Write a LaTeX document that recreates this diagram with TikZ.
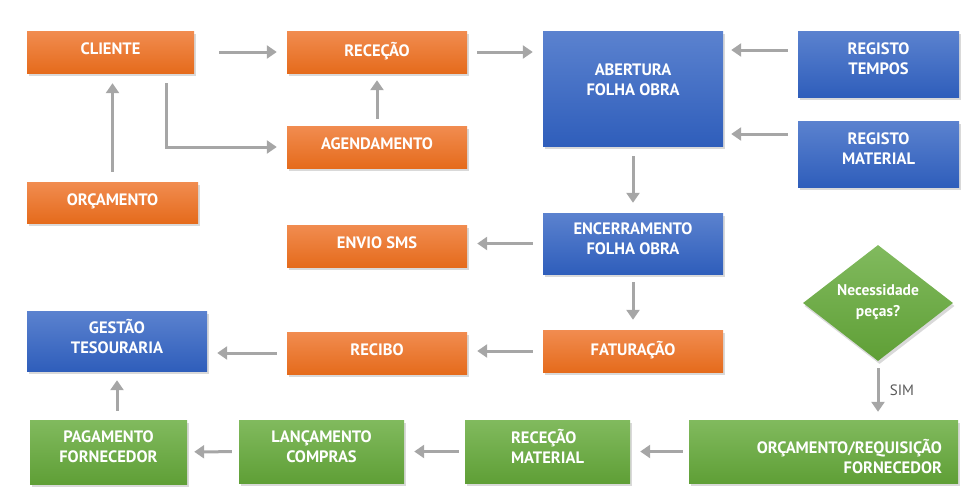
\documentclass[tikz,border=0pt]{standalone}
\usepackage{fontspec}
\setmainfont{PT Sans}
\usetikzlibrary{arrows.meta,shapes.geometric,shadows}
\definecolor{orangetop}{HTML}{F18C50}
\definecolor{orangebot}{HTML}{E56B1C}
\definecolor{bluetop}{HTML}{5B82CF}
\definecolor{bluebot}{HTML}{2F5EBB}
\definecolor{greentop}{HTML}{81BA5E}
\definecolor{greenbot}{HTML}{5F9F36}
\definecolor{arrowgray}{HTML}{A6A6A6}
\definecolor{labelgray}{HTML}{595959}
\tikzset{
	box/.style={rectangle, text=white, font=\fontsize{16.5}{20}\selectfont\bfseries, align=center, inner sep=0pt, text depth=10pt,
		drop shadow={opacity=0.3, shadow xshift=1.5pt, shadow yshift=-3pt}},
	orangebox/.style={box, top color=orangetop, bottom color=orangebot, text depth=6pt},
	bluebox/.style={box, top color=bluetop, bottom color=bluebot},
	greenbox/.style={box, top color=greentop, bottom color=greenbot},
	flow/.style={draw=arrowgray, line width=3pt, -{Triangle[width=13pt,length=10pt]}, shorten <=10pt, shorten >=10pt},
}

\begin{document}
\begin{tikzpicture}[x=1pt, y=-1pt]
		\useasboundingbox (0,0) rectangle (972,501);
		% orange
		\node (cliente)[orangebox, minimum width=167pt, minimum height=42pt] at (110.5,52) {CLIENTE};
		\node (rececao)[orangebox, minimum width=180pt, minimum height=42pt] at (377,52) {RECEÇÃO};
		\node (agendamento)[orangebox, minimum width=180pt, minimum height=42pt] at (377,147) {AGENDAMENTO};
		\node (orcamento)[orangebox, minimum width=171pt, minimum height=41pt] at (112.5,202.5) {ORÇAMENTO};
		\node (envio)[orangebox, minimum width=180pt, minimum height=42pt] at (377,246) {ENVIO SMS};
		\node (faturacao)[orangebox, minimum width=180pt, minimum height=42pt] at (633,351) {FATURAÇÃO};
		\node (recibo)[orangebox, minimum width=180pt, minimum height=42pt] at (377,353) {RECIBO};
		% blue
		\node (abertura)[bluebox, minimum width=180pt, minimum height=115pt, text depth=18pt] at (633,88.5) {ABERTURA\\FOLHA OBRA};
		\node (regtempos)[bluebox, minimum width=161pt, minimum height=66pt] at (878.5,64) {REGISTO\\TEMPOS};
		\node (regmaterial)[bluebox, minimum width=161pt, minimum height=66pt] at (878.5,154) {REGISTO\\MATERIAL};
		\node (encerramento)[bluebox, minimum width=180pt, minimum height=61pt] at (633,243.5) {ENCERRAMENTO\\FOLHA OBRA};
		\node (gestao)[bluebox, minimum width=180pt, minimum height=60pt] at (117,341) {GESTÃO\\TESOURARIA};
		% green
		\node (necessidade)[greenbox, diamond, aspect=1.3, minimum width=150pt, minimum height=116pt, text depth=4.5pt,
			font=\fontsize{15.5}{21}\selectfont\bfseries] at (878,303) {Necessidade\\peças?};
		\node (orcreq)[greenbox, minimum height=63pt, text width=237pt, align=right, inner xsep=16pt] at (823.5,451.5) {ORÇAMENTO/REQUISIÇÃO\\FORNECEDOR};
		\node (recmaterial)[greenbox, minimum width=165pt, minimum height=63pt, align=left] at (547.5,451.5) {RECEÇÃO\\MATERIAL};
		\node (lancamento)[greenbox, minimum width=165pt, minimum height=63pt] at (321.5,451.5) {LANÇAMENTO\\COMPRAS};
		\node (pagamento)[greenbox, minimum width=157pt, minimum height=64pt] at (108.5,452) {PAGAMENTO\\FORNECEDOR};

		\coordinate (c1) at ([xshift=55.5pt]cliente.south);
		\coordinate (t1) at ([yshift=14pt]regtempos.west);
		\coordinate (m1) at ([yshift=20pt]regmaterial.west);

		\draw [flow, shorten <=25pt](cliente) -- (rececao);
		\draw [flow](c1) |- (agendamento.west);
		\draw [flow](orcamento) -- (orcamento |- cliente.south);
		\draw [flow, shorten <=7pt, shorten >=7pt](agendamento) -- (rececao);
		\draw [flow](rececao) -- (rececao -| abertura.west);
		\draw [flow, shorten >=8pt](t1) -- (t1 -| abertura.east);
		\draw [flow, shorten >=8pt](m1) -- (m1 -| abertura.east);
		\draw [flow](abertura) -- (encerramento);
		\draw [flow](encerramento) -- (encerramento -| envio.east);
		\draw [flow, shorten <=8pt](encerramento) -- (faturacao);
		\draw [flow](faturacao) -- (faturacao -| recibo.east);
		\draw [flow](recibo) -- (recibo -| gestao.east);
		\draw [flow, shorten <=7pt, shorten >=8pt](necessidade.south) -- node [right=7pt, text=labelgray, font=\fontsize{15}{16}\selectfont]{SIM} (necessidade.south |- orcreq.north);
		\draw [flow, shorten <=6pt](orcreq) -- (recmaterial);
		\draw [flow, shorten <=6pt](recmaterial) -- (lancamento);
		\draw [flow, shorten <=7pt, shorten >=7pt](lancamento) -- (pagamento);
		\draw [flow, shorten <=9pt, shorten >=9pt](gestao |- pagamento.north) -- (gestao.south);
	\end{tikzpicture}
\end{document}
